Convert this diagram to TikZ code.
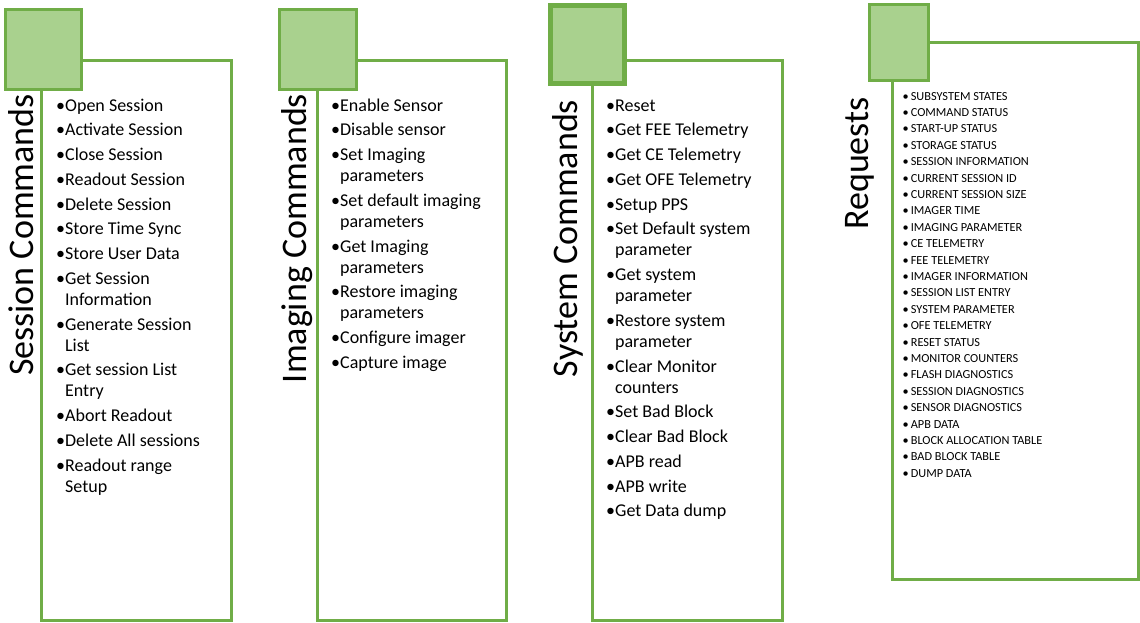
\documentclass[tikz,border=0pt]{standalone}
\usepackage{fontspec}
\setmainfont{Carlito}
\begin{document}
\begin{tikzpicture}[x=1pt,y=-1pt,
  panel/.style={draw=panelgreen, line width=3pt},
  tab/.style={draw=panelgreen, fill=tabgreen, line width=3pt},
  title/.style={rotate=90, anchor=base, inner sep=0pt, font=\fontsize{36}{40}\selectfont},
  itm/.style={anchor=base west, inner sep=0pt, font=\fontsize{18}{21}\selectfont},
  req/.style={anchor=base west, inner sep=0pt, font=\fontsize{12.3}{14}\selectfont}]
\definecolor{panelgreen}{HTML}{70AD47}
\definecolor{tabgreen}{HTML}{A9D18E}
\useasboundingbox (0,0) rectangle (1140,622);

% panels
\draw[panel] (41,60) rectangle (231,620);
\draw[panel] (317,60) rectangle (506,620);
\draw[panel] (592,60) rectangle (782,620);
\draw[panel] (892,42) rectangle (1138.5,579);

% tabs
\node[tab, minimum width=75.5pt, minimum height=80pt, inner sep=0pt, anchor=north west] (tab1) at (4,7.5) {};
\node[tab, minimum width=76.5pt, minimum height=80pt, inner sep=0pt, anchor=north west] (tab2) at (278,7.5) {};
\node[tab, line width=5pt, minimum width=74.5pt, minimum height=78.5pt, inner sep=0pt, anchor=north west] (tab3) at (547.5,2.5) {};
\node[tab, minimum width=59.5pt, minimum height=75.5pt, inner sep=0pt, anchor=north west] (tab4) at (867.5,3) {};

% titles
\node[title] (t1) at (33,235) {Session Commands};
\node[title] (t2) at (306,238.5) {Imaging Commands};
\node[title] (t3) at (577,238.5) {System Commands};
\node[title] (t4) at (868,163.5) {Requests};

% session commands
\node[itm] (s1) at (56,111) {•Open Session};
\node[itm] (s2) at ([yshift=-24.75pt]s1.base west) {•Activate Session};
\node[itm] (s3) at ([yshift=-24.75pt]s2.base west) {•Close Session};
\node[itm] (s4) at ([yshift=-24.75pt]s3.base west) {•Readout Session};
\node[itm] (s5) at ([yshift=-24.75pt]s4.base west) {•Delete Session};
\node[itm] (s6) at ([yshift=-24.75pt]s5.base west) {•Store Time Sync};
\node[itm] (s7) at ([yshift=-24.75pt]s6.base west) {•Store User Data};
\node[itm] (s8) at ([yshift=-24.75pt]s7.base west) {•Get Session};
\node[itm] (s8b) at ([yshift=-21pt]s8.base west) {\phantom{•}Information};
\node[itm] (s9) at ([yshift=-24.75pt]s8b.base west) {•Generate Session};
\node[itm] (s9b) at ([yshift=-21pt]s9.base west) {\phantom{•}List};
\node[itm] (s10) at ([yshift=-24.75pt]s9b.base west) {•Get session List};
\node[itm] (s10b) at ([yshift=-21pt]s10.base west) {\phantom{•}Entry};
\node[itm] (s11) at ([yshift=-24.75pt]s10b.base west) {•Abort Readout};
\node[itm] (s12) at ([yshift=-24.75pt]s11.base west) {•Delete All sessions};
\node[itm] (s13) at ([yshift=-24.75pt]s12.base west) {•Readout range};
\node[itm] (s13b) at ([yshift=-21pt]s13.base west) {\phantom{•}Setup};

% imaging commands
\node[itm] (i1) at (331,111) {•Enable Sensor};
\node[itm] (i2) at ([yshift=-24.75pt]i1.base west) {•Disable sensor};
\node[itm] (i3) at ([yshift=-24.75pt]i2.base west) {•Set Imaging};
\node[itm] (i3b) at ([yshift=-21pt]i3.base west) {\phantom{•}parameters};
\node[itm] (i4) at ([yshift=-24.75pt]i3b.base west) {•Set default imaging};
\node[itm] (i4b) at ([yshift=-21pt]i4.base west) {\phantom{•}parameters};
\node[itm] (i5) at ([yshift=-24.75pt]i4b.base west) {•Get Imaging};
\node[itm] (i5b) at ([yshift=-21pt]i5.base west) {\phantom{•}parameters};
\node[itm] (i6) at ([yshift=-24.75pt]i5b.base west) {•Restore imaging};
\node[itm] (i6b) at ([yshift=-21pt]i6.base west) {\phantom{•}parameters};
\node[itm] (i7) at ([yshift=-24.75pt]i6b.base west) {•Configure imager};
\node[itm] (i8) at ([yshift=-24.75pt]i7.base west) {•Capture image};

% system commands
\node[itm] (y1) at (606,111) {•Reset};
\node[itm] (y2) at ([yshift=-24.75pt]y1.base west) {•Get FEE Telemetry};
\node[itm] (y3) at ([yshift=-24.75pt]y2.base west) {•Get CE Telemetry};
\node[itm] (y4) at ([yshift=-24.75pt]y3.base west) {•Get OFE Telemetry};
\node[itm] (y5) at ([yshift=-24.75pt]y4.base west) {•Setup PPS};
\node[itm] (y6) at ([yshift=-24.75pt]y5.base west) {•Set Default system};
\node[itm] (y6b) at ([yshift=-21pt]y6.base west) {\phantom{•}parameter};
\node[itm] (y7) at ([yshift=-24.75pt]y6b.base west) {•Get system};
\node[itm] (y7b) at ([yshift=-21pt]y7.base west) {\phantom{•}parameter};
\node[itm] (y8) at ([yshift=-24.75pt]y7b.base west) {•Restore system};
\node[itm] (y8b) at ([yshift=-21pt]y8.base west) {\phantom{•}parameter};
\node[itm] (y9) at ([yshift=-24.75pt]y8b.base west) {•Clear Monitor};
\node[itm] (y9b) at ([yshift=-21pt]y9.base west) {\phantom{•}counters};
\node[itm] (y10) at ([yshift=-24.75pt]y9b.base west) {•Set Bad Block};
\node[itm] (y11) at ([yshift=-24.75pt]y10.base west) {•Clear Bad Block};
\node[itm] (y12) at ([yshift=-24.75pt]y11.base west) {•APB read};
\node[itm] (y13) at ([yshift=-24.75pt]y12.base west) {•APB write};
\node[itm] (y14) at ([yshift=-24.75pt]y13.base west) {•Get Data dump};

% requests
\foreach [count=\k] \txt in {SUBSYSTEM STATES, COMMAND STATUS, START-UP STATUS,
  STORAGE STATUS, SESSION INFORMATION, CURRENT SESSION ID, CURRENT SESSION SIZE,
  IMAGER TIME, IMAGING PARAMETER, CE TELEMETRY, FEE TELEMETRY, IMAGER INFORMATION,
  SESSION LIST ENTRY, SYSTEM PARAMETER, OFE TELEMETRY, RESET STATUS,
  MONITOR COUNTERS, FLASH DIAGNOSTICS, SESSION DIAGNOSTICS, SENSOR DIAGNOSTICS,
  APB DATA, BLOCK ALLOCATION TABLE, BAD BLOCK TABLE, DUMP DATA}
  \node[req] (r\k) at (902.5,{100+16.4*(\k-1)}) {•\hspace{2pt}\txt};
\end{tikzpicture}
\end{document}
